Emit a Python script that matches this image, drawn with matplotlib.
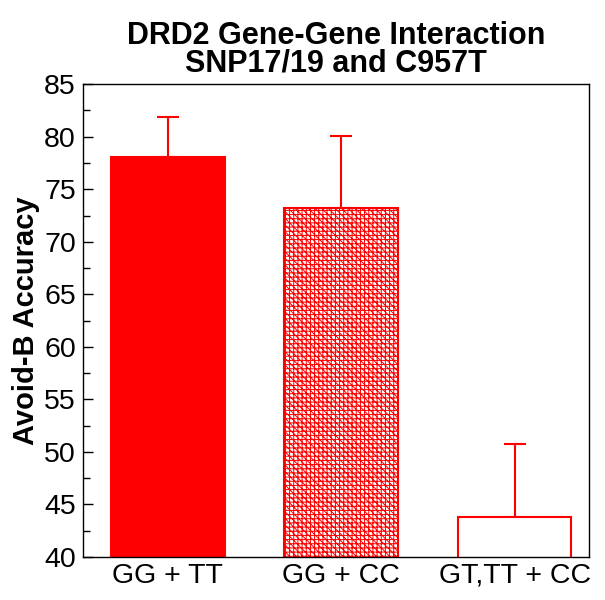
import matplotlib
matplotlib.use("Agg")
import matplotlib.pyplot as plt
from matplotlib.ticker import MultipleLocator

categories = ["GG + TT", "GG + CC", "GT,TT + CC"]
values = [78.1, 73.2, 43.8]
errors = [3.8, 6.9, 6.95]
title = "DRD2 Gene-Gene Interaction\nSNP17/19 and C957T"
ylabel = "Avoid-B Accuracy"

plt.rcParams['font.family'] = ['Liberation Sans', 'DejaVu Sans']
plt.rcParams['hatch.linewidth'] = 0.7
plt.rcParams['hatch.color'] = 'red'

fig = plt.figure(figsize=(6.05, 6.0), dpi=100)
ax = fig.add_axes([0.137, 0.0717, 0.837, 0.788])

x = list(range(len(categories)))
red = '#ff0000'
faces = [red, 'white', 'white']
hatches = [None, '\\\\\\\\\\++++', None]
for i in x:
    ax.bar(i, values[i], width=0.655, bottom=0, color=faces[i], edgecolor=red,
           linewidth=1.5, hatch=hatches[i], zorder=2)
    ax.errorbar(i, values[i], yerr=[[0], [errors[i]]], fmt='none', ecolor=red,
                elinewidth=1.5, capsize=8, capthick=1.5, zorder=1)

ax.set_ylim(40, 85)
ax.set_xlim(-0.49, 2.43)
ax.yaxis.set_major_locator(MultipleLocator(5))
ax.yaxis.set_minor_locator(MultipleLocator(2.5))
ax.tick_params(axis='y', which='major', direction='in', length=7, width=1, labelsize=20.5, pad=5)
ax.tick_params(axis='y', which='minor', direction='in', length=5, width=1)
ax.set_xticks(x)
ax.set_xticklabels(categories)
ax.tick_params(axis='x', length=0, labelsize=20.5, pad=4)
for s in ax.spines.values():
    s.set_linewidth(1.0)
ax.set_ylabel(ylabel, fontsize=21, fontweight='bold', labelpad=3)
ax.set_title(title, fontsize=22, fontweight='bold', linespacing=0.9, pad=9)

fig.savefig("out.png", dpi=100)
